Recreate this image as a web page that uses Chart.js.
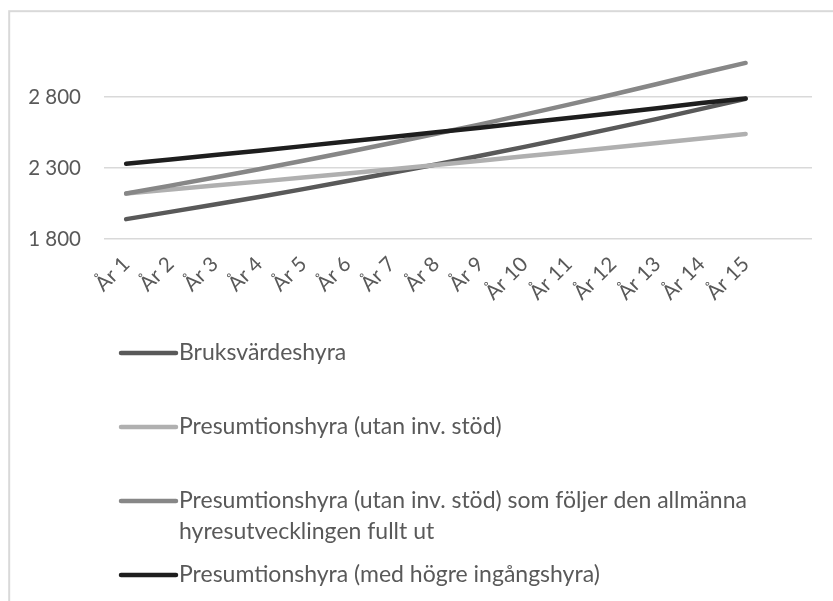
<!DOCTYPE html>
<html lang="sv">
<head>
<meta charset="utf-8">
<title>Hyresutveckling</title>
<script src="https://cdn.jsdelivr.net/npm/chart.js@4/dist/chart.umd.min.js"></script>
<style>
  html, body { margin: 0; padding: 0; background: #ffffff; }
  #wrap { width: 833px; height: 601px; position: relative; overflow: hidden; }
</style>
</head>
<body>
<div id="wrap"><canvas id="hyror" width="833" height="601"></canvas></div>
<script>
// Kategorier (år) – sista kategorin är tom och ger luft till höger om År 15
const years = ['År 1', 'År 2', 'År 3', 'År 4', 'År 5', 'År 6', 'År 7', 'År 8',
               'År 9', 'År 10', 'År 11', 'År 12', 'År 13', 'År 14', 'År 15', ''];

// Hyresnivåer, kr per år och kvm
const bruksvardeshyra = [1940, 1991, 2043, 2096, 2151, 2208, 2266, 2325,
                         2386, 2449, 2513, 2579, 2646, 2716, 2787];
const presumtionUtanStod = [2120, 2148, 2176, 2204, 2233, 2262, 2291, 2321,
                            2351, 2382, 2413, 2444, 2476, 2508, 2540];
const presumtionAllmanUtveckling = [2120, 2176, 2233, 2291, 2351, 2413, 2476, 2541,
                                    2607, 2676, 2746, 2818, 2892, 2967, 3040];
const presumtionHogreIngang = [2330, 2360, 2391, 2422, 2454, 2486, 2518, 2551,
                               2584, 2618, 2652, 2686, 2721, 2757, 2789];

// Y-axelns skala
const yMin = 1800;
const yMax = 3300;
const yStep = 500;

const seriesNames = [
  'Bruksvärdeshyra',
  'Presumtionshyra (utan inv. stöd)',
  'Presumtionshyra (utan inv. stöd) som följer den allmänna hyresutvecklingen fullt ut',
  'Presumtionshyra (med högre ingångshyra)'
];

const FONT = 'Lato, "Open Sans", sans-serif';
const TEXT = '#595959';
const GRID = '#d9d9d9';

function spaced(v) {
  return String(v).replace(/\B(?=(\d{3})+(?!\d))/g, ' ');
}

// Ram runt hela diagramytan
const frame = {
  id: 'frame',
  beforeDraw(chart) {
    const ctx = chart.ctx;
    ctx.save();
    ctx.strokeStyle = GRID;
    ctx.lineWidth = 2;
    ctx.strokeRect(9.2, 11.2, 1000, 1000);
    ctx.restore();
  }
};

// Förklaring: en post per rad, lång text bryts på flera rader
const stackedLegend = {
  id: 'stackedLegend',
  afterDraw(chart, args, opts) {
    const ctx = chart.ctx;
    ctx.save();
    ctx.font = opts.fontSize + 'px ' + FONT;
    ctx.textBaseline = 'middle';
    chart.data.datasets.forEach((ds, i) => {
      const y = opts.top + i * opts.step;
      ctx.strokeStyle = ds.borderColor;
      ctx.lineWidth = opts.sampleWidth;
      ctx.lineCap = 'round';
      ctx.beginPath();
      ctx.moveTo(opts.sampleLeft, y);
      ctx.lineTo(opts.sampleRight, y);
      ctx.stroke();
      // radbrytning efter tillgänglig bredd
      const words = ds.label.split(' ');
      const lines = [];
      let cur = '';
      words.forEach(w => {
        const test = cur ? cur + ' ' + w : w;
        if (cur && ctx.measureText(test).width > opts.maxWidth) {
          lines.push(cur);
          cur = w;
        } else {
          cur = test;
        }
      });
      if (cur) lines.push(cur);
      ctx.fillStyle = TEXT;
      lines.forEach((ln, k) => ctx.fillText(ln, opts.textLeft, y + k * opts.lineHeight));
    });
    ctx.restore();
  }
};

const colors = ['#595959', '#b0b0b0', '#878787', '#1e1e1e'];
const values = [bruksvardeshyra, presumtionUtanStod, presumtionAllmanUtveckling, presumtionHogreIngang];

new Chart(document.getElementById('hyror'), {
  type: 'line',
  data: {
    labels: years,
    datasets: values.map((v, i) => ({
      label: seriesNames[i],
      data: v,
      borderColor: colors[i],
      backgroundColor: colors[i],
      borderWidth: 4.5,
      borderCapStyle: 'round',
      borderJoinStyle: 'round',
      pointRadius: 0,
      pointHoverRadius: 0,
      tension: 0,
      fill: false,
      order: values.length - 1 - i
    }))
  },
  options: {
    responsive: false,
    devicePixelRatio: 1,
    animation: false,
    layout: { padding: { left: 0, right: 21, top: 26, bottom: 292 } },
    plugins: {
      legend: { display: false },
      tooltip: { enabled: false },
      stackedLegend: {
        top: 353, step: 74, lineHeight: 31,
        sampleLeft: 121, sampleRight: 176, sampleWidth: 4.5,
        textLeft: 179, maxWidth: 620, fontSize: 23
      }
    },
    scales: {
      x: {
        type: 'category',
        offset: true,
        grid: { display: false },
        border: { display: false },
        ticks: {
          autoSkip: false,
          maxRotation: 45,
          minRotation: 45,
          padding: 5,
          color: TEXT,
          font: { family: FONT, size: 20.5 }
        },
        afterFit(scale) {
          scale.height = 70;
          scale.paddingLeft = 0;
          scale.paddingRight = 0;
        }
      },
      y: {
        min: yMin,
        max: yMax,
        border: { display: false },
        grid: {
          drawTicks: false,
          lineWidth: 1.5,
          color: c => (c.tick && c.tick.value === yMax) ? 'rgba(0,0,0,0)' : GRID
        },
        ticks: {
          stepSize: yStep,
          padding: 23,
          color: TEXT,
          font: { family: FONT, size: 20.5 },
          callback: v => v === yMax ? '' : spaced(v)
        },
        afterFit(scale) {
          scale.width = 104;
          scale.paddingTop = 0;
          scale.paddingBottom = 0;
        }
      }
    }
  },
  plugins: [frame, stackedLegend]
});
</script>
</body>
</html>
